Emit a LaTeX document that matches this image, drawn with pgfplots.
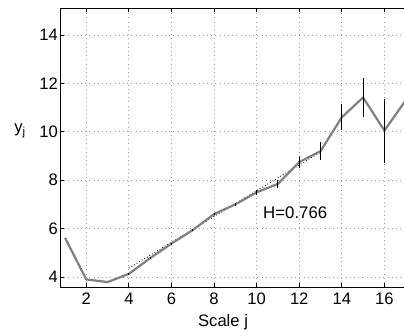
\documentclass[border=0pt]{standalone}
\usepackage{pgfplots}
\pgfplotsset{compat=1.18}
\usepackage{fontspec}
\setmainfont{Liberation Sans}
\pgfplotstableread{
j y e
1 5.62 0
2 3.90 0
3 3.79 0
4 4.13 0.03
5 4.78 0.03
6 5.38 0.03
7 5.94 0.04
8 6.60 0.05
9 7.00 0.07
10 7.50 0.10
11 7.85 0.17
12 8.75 0.23
13 9.20 0.37
14 10.60 0.54
15 11.42 0.80
16 10.05 1.32
17 11.30 0
}\datatab
\pgfplotstableread{
j y
4 4.37
13 9.16
}\fittab
\begin{document}
\begin{tikzpicture}
\begin{axis}[
  name=ax,
  scale only axis,
  width=344bp, height=279bp,
  xmin=0.765, xmax=16.92,
  ymin=3.587, ymax=15.116,
  xtick={2,4,...,16},
  ytick={4,6,...,14},
  axis y line*=left,
  y axis line style={-},
  axis line style={line width=0.9bp, black},
  tick align=inside,
  major tick length=4bp,
  tick style={line width=0.8bp, black},
  grid=major,
  major grid style={dash pattern=on 0.8bp off 3.4bp, line width=0.8bp, gray!75},
  /pgf/number format/assume math mode=true,
  tick label style={font=\fontsize{16.6bp}{19bp}\selectfont},
  xticklabel style={yshift=-2.5bp},
  yticklabel style={inner sep=2bp},
  xlabel={Scale j},
  ylabel={y\textsubscript{j}},
  label style={font=\fontsize{16.6bp}{19bp}\selectfont},
  xlabel style={at={(axis description cs:0.474,-0.125)}, anchor=center},
  ylabel style={rotate=-90, at={(axis description cs:-0.116,0.56)}, anchor=center},
  clip=true,
]
\addplot[black, dash pattern=on 0.8bp off 2.2bp, line width=0.9bp] table[x=j,y=y] {\fittab};
\addplot[color={rgb,255:red,128;green,128;blue,128}, line width=2.2bp, line join=round,
  error bars/.cd, y dir=both, y explicit, error mark=none,
  error bar style={black, line width=1bp, solid}]
  table[x=j, y=y, y error=e] {\datatab};
\node[anchor=west, font=\fontsize{16.8bp}{19bp}\selectfont, inner sep=0pt] at (axis cs:10.3,6.64) {H=0.766};
\end{axis}
\pgfresetboundingbox
\path ([xshift=-60bp,yshift=-49bp]ax.south west) rectangle ([yshift=8bp]ax.north east);
\end{tikzpicture}
\end{document}
